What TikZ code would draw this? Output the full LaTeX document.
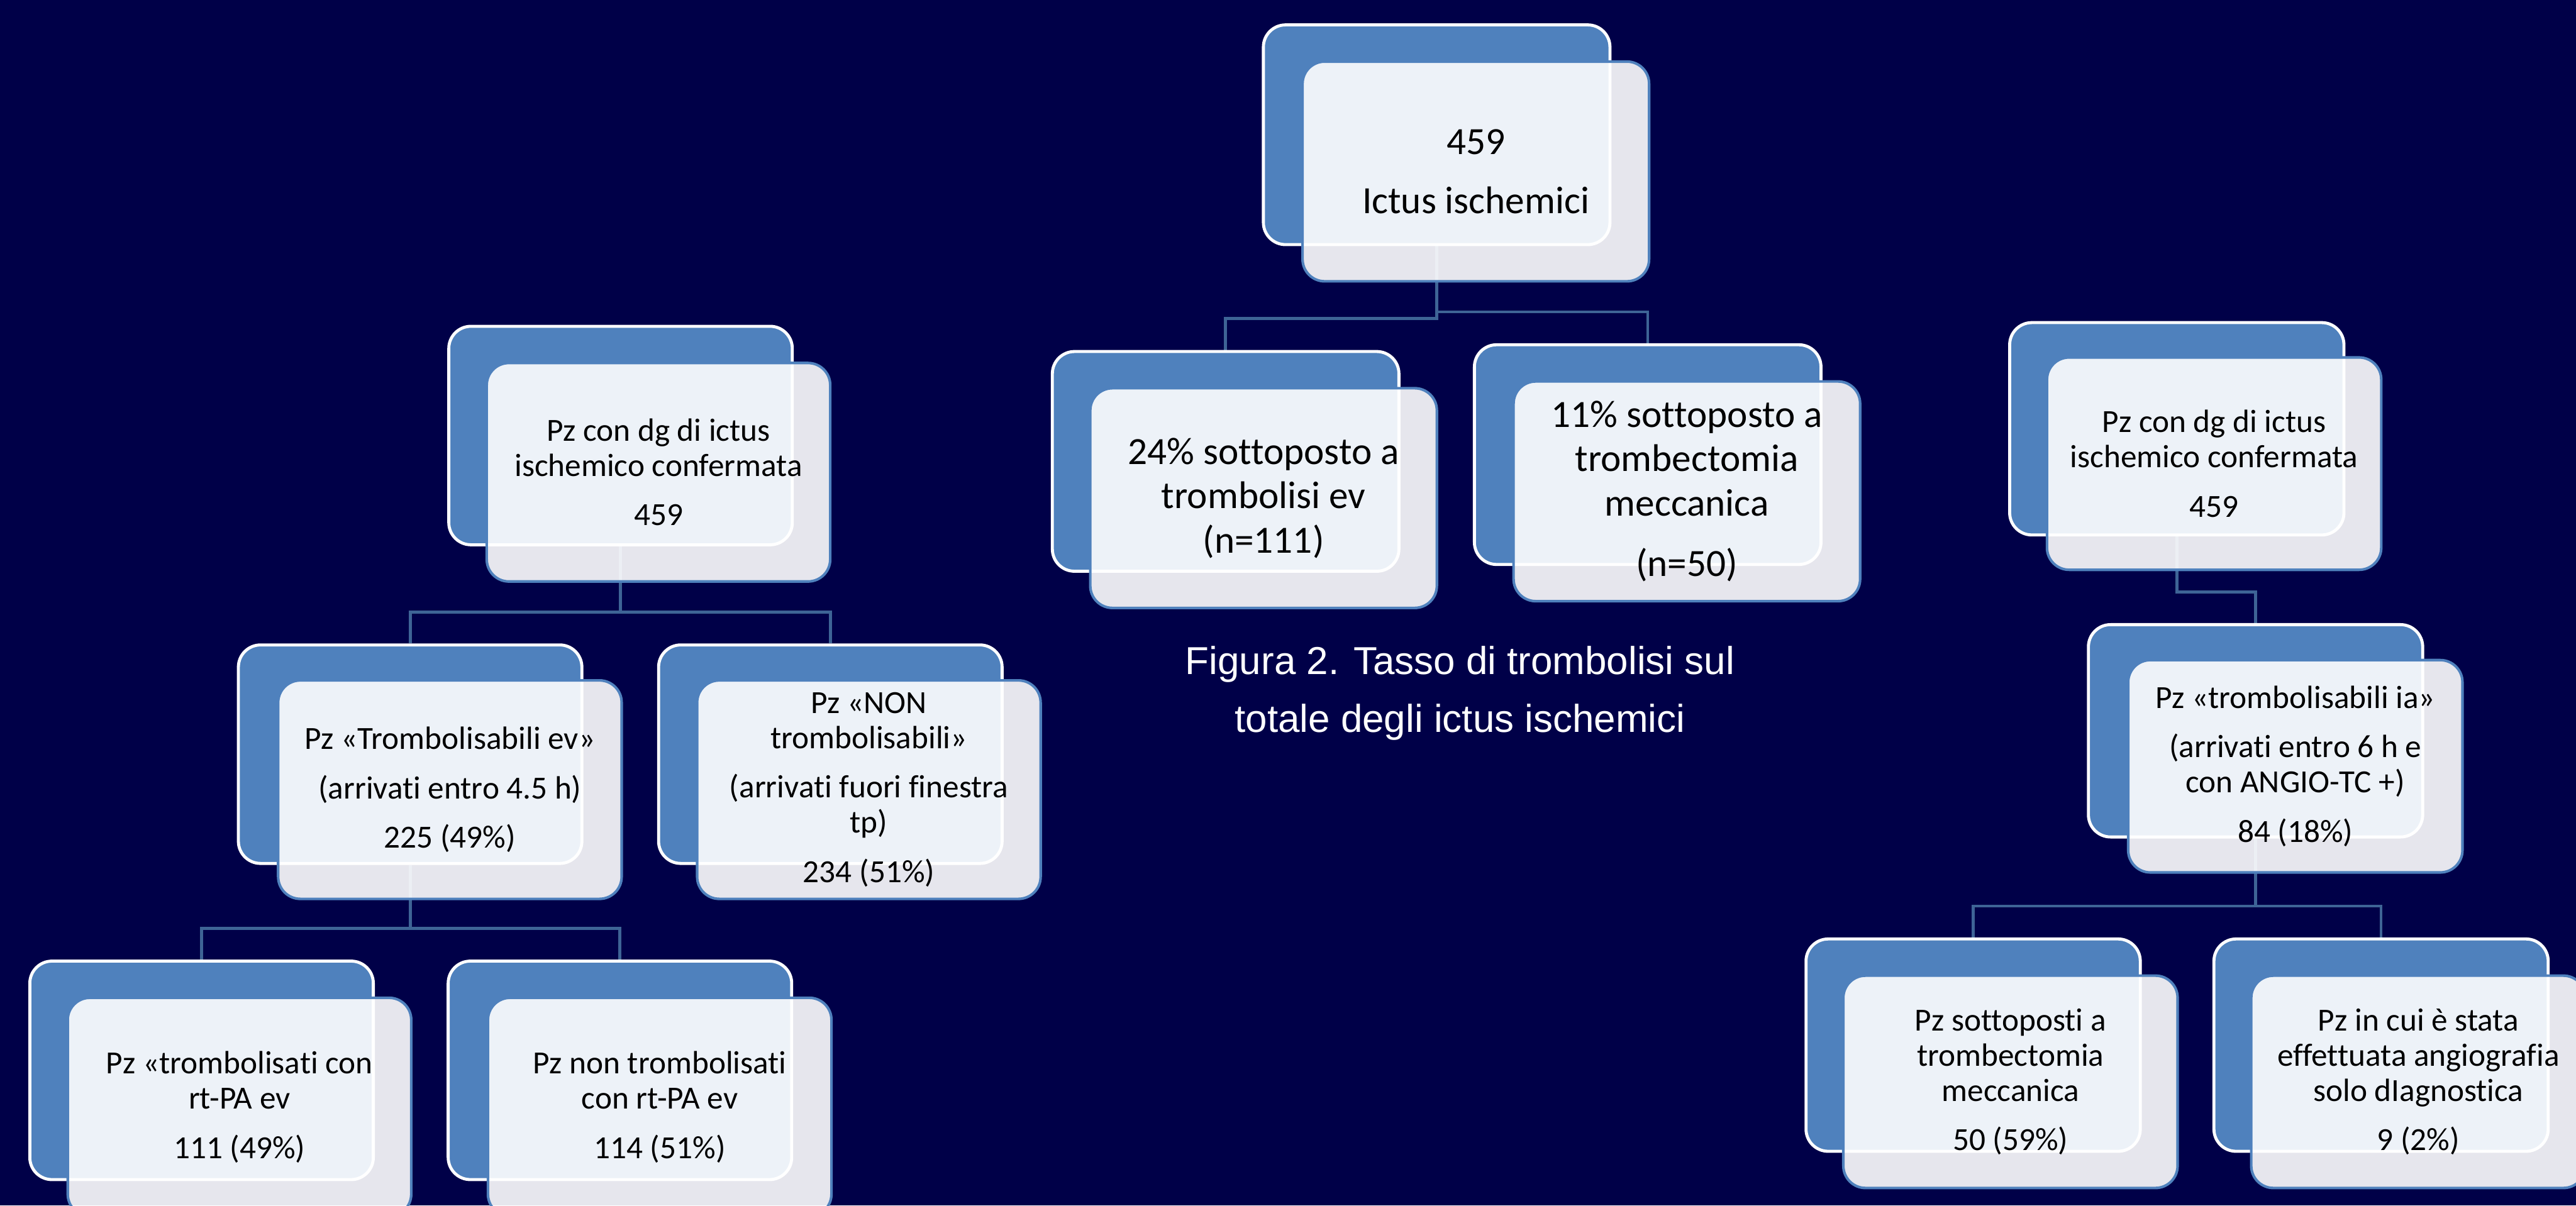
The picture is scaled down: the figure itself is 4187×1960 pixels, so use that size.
\documentclass[tikz,border=0pt]{standalone}
\usepackage{fontspec}
\setmainfont{Carlito}[Ligatures=NoCommon]
\newfontfamily\capfont{Liberation Sans}
\usetikzlibrary{calc}
\definecolor{bgnavy}{RGB}{0,0,72}
\definecolor{backblue}{RGB}{79,129,189}
\definecolor{edgeblue}{RGB}{79,129,189}
\definecolor{connblue}{RGB}{62,100,150}
\pgfdeclarelayer{backdrop}
\pgfdeclarelayer{lines}
\pgfsetlayers{backdrop,lines,main}
\tikzset{
  backbox/.style={draw=white, line width=1.4pt, fill=backblue, rounded corners=0.36cm, inner sep=0pt, anchor=north west},
  frontbox/.style={draw=edgeblue, line width=1.2pt, fill=white, fill opacity=0.9, text opacity=1, text=black, rounded corners=0.36cm, inner sep=0pt, anchor=north west, align=center},
  sizeC/.style={minimum width=5.63cm, minimum height=3.57cm},
  sizeL/.style={minimum width=5.58cm, minimum height=3.55cm},
  sizeR/.style={minimum width=5.43cm, minimum height=3.45cm},
  bigtext/.style={font=\fontsize{17.8}{20.5}\selectfont},
  smalltext/.style={font=\fontsize{14.9}{16.3}\selectfont},
  conn/.style={draw=connblue, line width=1.4pt},
  captiontext/.style={text=white, align=center, font=\capfont\fontsize{18}{26.7}\selectfont}
}
\newcommand\linkto[2]{\draw[conn] (#1.south) |- ($(#2.north)+(0,-51)$) -- (#2.north);}
\begin{document}
\begin{tikzpicture}[x=0.01cm,y=-0.01cm]
\useasboundingbox (0,0) rectangle (4187,1960);
\begin{pgfonlayer}{backdrop}
\fill[bgnavy] (0,0) rectangle (4187,1960);
\end{pgfonlayer}
\clip (0,0) rectangle (4187,1960);

% centre tree
\node[backbox,sizeC] (topb) at (2051,38) {};
\node[frontbox,sizeC,bigtext] (top) at (2115,98) {459\\[6.8pt]Ictus ischemici};
\node[backbox,sizeC] (c24b) at (1708,569) {};
\node[frontbox,sizeC,bigtext] (c24) at (1770,629) {24\% sottoposto a\\trombolisi ev\\(n=111)};
\node[backbox,sizeC] (c11b) at (2394,558) {};
\node[frontbox,sizeC,bigtext] (c11) at (2458,618) {11\% sottoposto a\\trombectomia\\meccanica\\[7.5pt](n=50)};

\node[captiontext] (cap) at (2373,1127) {Figura 2. Tasso di trombolisi sul\\totale degli ictus ischemici};

% left tree
\node[backbox,sizeL] (Ltopb) at (727,528) {};
\node[frontbox,sizeL,smalltext] (Ltop) at (789,588) {Pz con dg di ictus\\ischemico confermata\\[6.5pt]459};
\node[backbox,sizeL] (Ltromb) at (385,1046) {};
\node[frontbox,sizeL,smalltext] (Ltrom) at (450,1104) {Pz «Trombolisabili ev»\\[6.5pt](arrivati entro 4.5 h)\\[6.5pt]225 (49\%)};
\node[backbox,sizeL] (Lnonb) at (1068,1046) {};
\node[frontbox,sizeL,smalltext] (Lnon) at (1131,1104) {Pz «NON\\trombolisabili»\\[6.5pt](arrivati fuori finestra\\tp)\\[6.5pt]234 (51\%)};
\node[backbox,sizeL] (Lbtb) at (46,1560) {};
\node[frontbox,sizeL,smalltext] (Lbt) at (108,1620) {Pz «trombolisati con\\rt-PA ev\\[6.5pt]111 (49\%)};
\node[backbox,sizeL] (Lbnb) at (726,1560) {};
\node[frontbox,sizeL,smalltext] (Lbn) at (791,1620) {Pz non trombolisati\\con rt-PA ev\\[6.5pt]114 (51\%)};

% right tree
\node[backbox,sizeR] (Rtopb) at (3264,522) {};
\node[frontbox,sizeR,smalltext] (Rtop) at (3325,579) {Pz con dg di ictus\\ischemico confermata\\[6.5pt]459};
\node[backbox,sizeR] (Riab) at (3392,1013) {};
\node[frontbox,sizeR,smalltext] (Ria) at (3457,1071) {Pz «trombolisabili ia»\\[6.5pt](arrivati entro 6 h e\\con ANGIO-TC +)\\[6.5pt]84 (18\%)};
\node[backbox,sizeR] (Rsb) at (2933,1524) {};
\node[frontbox,sizeR,smalltext] (Rs) at (2994,1584) {Pz sottoposti a\\trombectomia\\meccanica\\[6.5pt]50 (59\%)};
\node[backbox,sizeR] (Rcb) at (3596,1524) {};
\node[frontbox,sizeR,smalltext] (Rc) at (3657,1584) {Pz in cui è stata\\effettuata angiografia\\solo dIagnostica\\[6.5pt]9 (2\%)};

\begin{pgfonlayer}{lines}
\linkto{topb}{c24b}
\linkto{topb}{c11b}
\linkto{Ltopb}{Ltromb}
\linkto{Ltopb}{Lnonb}
\linkto{Ltromb}{Lbtb}
\linkto{Ltromb}{Lbnb}
\linkto{Rtopb}{Riab}
\linkto{Riab}{Rsb}
\linkto{Riab}{Rcb}
\end{pgfonlayer}
\end{tikzpicture}
\end{document}
